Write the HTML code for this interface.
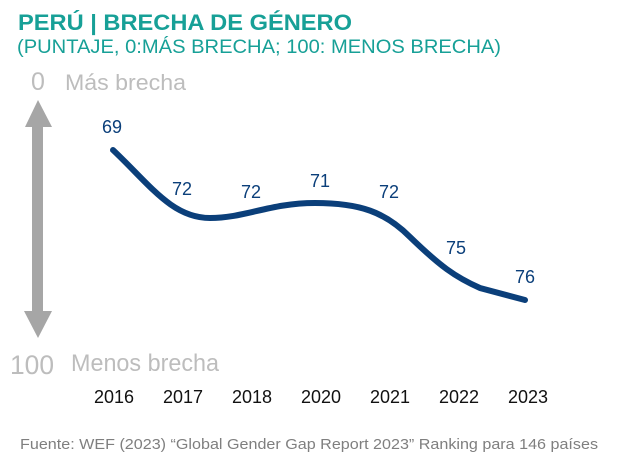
<!DOCTYPE html>
<html><head><meta charset="utf-8"><style>
body{margin:0;width:620px;height:466px;background:#fff;overflow:hidden;}
svg{display:block}
</style></head><body>
<svg width="620" height="466" viewBox="0 0 620 466" xmlns="http://www.w3.org/2000/svg" font-family="Liberation Sans, sans-serif">
<text x="18" y="30" font-size="22" font-weight="bold" fill="#17a097" textLength="334" lengthAdjust="spacingAndGlyphs">PERÚ | BRECHA DE GÉNERO</text>
<text x="17" y="53" font-size="19" fill="#17a097" textLength="484" lengthAdjust="spacingAndGlyphs">(PUNTAJE, 0:MÁS BRECHA; 100: MENOS BRECHA)</text>
<text x="31" y="90" font-size="25" fill="#bdbdbd">0</text>
<text x="65" y="90" font-size="22" fill="#bdbdbd" textLength="121" lengthAdjust="spacingAndGlyphs">Más  brecha</text>
<rect x="32" y="124" width="11" height="190" fill="#a6a6a6"/>
<polygon points="38,100 25,127 52,127" fill="#a6a6a6"/>
<polygon points="38,338 24,311 52,311" fill="#a6a6a6"/>
<text x="10" y="374" font-size="27" fill="#bdbdbd" textLength="44" lengthAdjust="spacingAndGlyphs">100</text>
<text x="71" y="371" font-size="24" fill="#bdbdbd" textLength="148" lengthAdjust="spacingAndGlyphs">Menos  brecha</text>
<path d="M113,150 C150,185 172,218 210,218 C245,218 270,203 315,203 C360,203 385,212 410,237 C440,266 455,277 480,288 L525,300" fill="none" stroke="#0b3f7a" stroke-width="6" stroke-linecap="round"/>
<g font-size="18" fill="#0b3f7a" text-anchor="middle">
<text x="112" y="133">69</text>
<text x="182" y="195">72</text>
<text x="251" y="198">72</text>
<text x="320" y="187">71</text>
<text x="389" y="198">72</text>
<text x="456" y="254">75</text>
<text x="525" y="283">76</text>
</g>
<g font-size="18" fill="#111" text-anchor="middle">
<text x="114" y="403">2016</text>
<text x="183" y="403">2017</text>
<text x="252" y="403">2018</text>
<text x="321" y="403">2020</text>
<text x="390" y="403">2021</text>
<text x="459" y="403">2022</text>
<text x="528" y="403">2023</text>
</g>
<text x="20" y="449" font-size="15" fill="#7f7f7f" textLength="578" lengthAdjust="spacingAndGlyphs">Fuente: WEF (2023) “Global Gender Gap Report 2023” Ranking para 146 países</text>
</svg>
</body></html>
